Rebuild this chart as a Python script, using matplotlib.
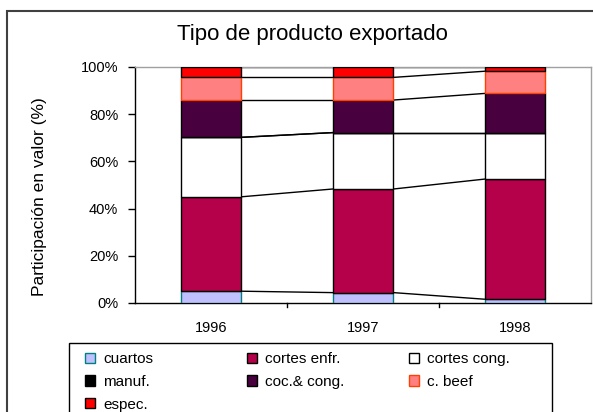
import matplotlib
matplotlib.use("Agg")
import matplotlib.pyplot as plt
import numpy as np
from matplotlib.patches import Rectangle

plt.rcParams['font.family'] = ['Liberation Sans', 'DejaVu Sans']

years = ["1996", "1997", "1998"]
series = ["cuartos", "cortes enfr.", "cortes cong.", "manuf.", "coc.& cong.", "c. beef", "espec."]
cuartos = [5.0, 4.4, 1.6]
cortes_enfr = [40.0, 43.9, 50.9]
cortes_cong = [25.2, 23.9, 19.7]
manuf = [0.0, 0.0, 0.0]
coc_cong = [15.8, 13.8, 16.6]
c_beef = [9.6, 9.6, 9.4]
espec = [4.4, 4.4, 1.8]
values = [cuartos, cortes_enfr, cortes_cong, manuf, coc_cong, c_beef, espec]
yticks = [0, 20, 40, 60, 80, 100]
ytick_labels = ["0%", "20%", "40%", "60%", "80%", "100%"]

faces = ["#C0C0FF", "#B5004A", "#FFFFFF", "#000000", "#48003F", "#FF8080", "#FF0000"]
edges = ["#008080", "#000000", "#000000", "#000000", "#000000", "#FF4000", "#000000"]

W, H = 593, 412
fig = plt.figure(figsize=(W / 100, H / 100), dpi=100)
ax = fig.add_axes([135 / W, 1 - 303 / H, (591 - 135) / W, (303 - 67) / H])

x = np.arange(len(years))
bw = 0.4
bottom = np.zeros(len(years))
handles = []
for vals, name, fc, ec in zip(values, series, faces, edges):
    v = np.array(vals)
    b = ax.bar(x, v, bw, bottom=bottom, color=fc, edgecolor=ec, linewidth=1.0, label=name, zorder=3)
    handles.append(b)
    top = bottom + v
    for i in range(len(years) - 1):
        ax.plot([x[i] + bw / 2, x[i + 1] - bw / 2], [top[i], top[i + 1]],
                color="black", linewidth=1.0, zorder=2)
    bottom = top

ax.set_xlim(-0.5, len(years) - 0.5)
ax.set_ylim(0, 100)
ax.set_yticks(yticks)
ax.set_yticklabels(ytick_labels, fontsize=10.5)
ax.set_xticks(x)
ax.set_xticklabels(years, fontsize=10.5)
ax.tick_params(axis='x', length=0, pad=13)
for xb in [0.5, 1.5]:
    ax.plot([xb, xb], [0, -1.8], color="black", linewidth=1.0, clip_on=False)
ax.tick_params(axis='y', length=5, width=1, direction='out', pad=7)
for s in ["left", "bottom"]:
    ax.spines[s].set_color("black")
    ax.spines[s].set_linewidth(1.0)
for s in ["top", "right"]:
    ax.spines[s].set_color("#A0A0A0")
    ax.spines[s].set_linewidth(1.0)

fig.text(40 / W, 1 - 296 / H, "Participación en valor (%)", rotation=90, ha="center", va="bottom",
         fontsize=12.5)
fig.text(312 / W, 1 - 40 / H, "Tipo de producto exportado", ha="center", va="baseline", fontsize=16)

cols = [[0, 3, 6], [1, 4], [2, 5]]
col_x = [85, 247, 409]
for cx, idx in zip(col_x, cols):
    leg = fig.legend([handles[i] for i in idx], [series[i] for i in idx], ncol=1,
                     loc="upper left", bbox_to_anchor=(cx / W, 1 - 352 / H),
                     fontsize=11, frameon=False,
                     handlelength=0.65, handleheight=0.65, handletextpad=0.55,
                     labelspacing=0.58, borderaxespad=0, borderpad=0)

fig.patches.append(Rectangle((69 / W, -0.05), (552 - 69) / W, 1 - 343 / H + 0.05,
                             transform=fig.transFigure, fill=False, edgecolor="black", linewidth=1.0))
fig.patches.append(Rectangle((7 / W, -0.05), 1.1, 1 - 11 / H + 0.05, transform=fig.transFigure,
                             fill=False, edgecolor="#404040", linewidth=1.5))

fig.savefig("out.png", dpi=100)
